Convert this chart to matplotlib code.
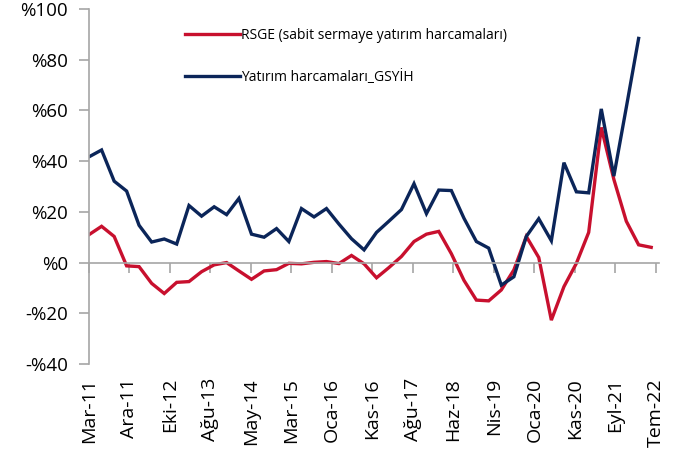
import numpy as np
import pandas as pd
import matplotlib
matplotlib.use("Agg")
import matplotlib.pyplot as plt

plt.rcParams['font.family'] = ['Open Sans', 'DejaVu Sans']

# quarterly data, Mar-11 .. Jun-22
dates = pd.date_range('2011-03-01', periods=46, freq='3MS')

rsge = [11.0, 14.3, 10.3, -1.3, -1.6, -8.2, -12.2, -7.8, -7.5, -3.6,
        -0.9, 0.0, -3.3, -6.6, -3.3, -2.8, -0.3, -0.5, 0.1, 0.4,
        -0.4, 2.8, -0.5, -6.0, -2.0, 2.4, 8.3, 11.2, 12.3, 3.5,
        -7.0, -14.8, -15.1, -10.8, -2.9, 10.3, 2.0, -22.7, -9.5, -0.3,
        11.9, 53.3, 32.8, 16.3, 7.0, 6.0]

yatirim = [41.7, 44.4, 32.1, 28.2, 14.7, 8.1, 9.3, 7.3, 22.5, 18.3,
           22.0, 18.9, 25.3, 11.2, 10.0, 13.4, 8.3, 21.3, 18.0, 21.3,
           15.2, 9.4, 5.0, 11.9, 16.3, 20.9, 31.1, 19.3, 28.6, 28.4,
           17.5, 8.3, 5.7, -8.9, -5.6, 10.3, 17.3, 8.6, 39.4, 27.9,
           27.5, 60.6, 34.1, 61.2, 88.4]

labels = ['RSGE (sabit sermaye yatırım harcamaları)', 'Yatırım harcamaları_GSYİH']

xtick_labels = ['Mar-11', 'Ara-11', 'Eki-12', 'Ağu-13', 'May-14', 'Mar-15', 'Oca-16',
                'Kas-16', 'Ağu-17', 'Haz-18', 'Nis-19', 'Oca-20', 'Kas-20', 'Eyl-21', 'Tem-22']
yticks = [-40, -20, 0, 20, 40, 60, 80, 100]
ytick_labels = ['-%40', '-%20', '%0', '%20', '%40', '%60', '%80', '%100']

# excel date axis: one major tick every 296 days
xticks = pd.Timestamp('2011-03-01') + pd.to_timedelta(np.arange(len(xtick_labels)) * 296, unit='D')

red = '#C8102E'
navy = '#0B2559'
grey = '#A6A6A6'

fig = plt.figure(figsize=(6.73, 4.55), dpi=100)
ax = fig.add_axes([89/673, 1 - 364/455, (659 - 89)/673, (364 - 9)/455])

ax.plot(dates, rsge, color=red, lw=2.4, label=labels[0], solid_joinstyle='miter')
ax.plot(dates[:len(yatirim)], yatirim, color=navy, lw=2.4, label=labels[1], solid_joinstyle='miter')

ax.set_ylim(-40, 100)
ax.set_xlim(pd.Timestamp('2011-03-01'), pd.Timestamp('2022-07-28'))

ax.set_yticks(yticks)
ax.set_yticklabels(ytick_labels, fontsize=13.5)
ax.tick_params(axis='y', direction='out', length=7, color=grey, width=1.2, pad=8)

for s in ['top', 'right']:
    ax.spines[s].set_visible(False)
ax.spines['left'].set_color(grey)
ax.spines['left'].set_linewidth(1.2)
ax.spines['bottom'].set_position(('data', 0))
ax.spines['bottom'].set_color(grey)
ax.spines['bottom'].set_linewidth(1.2)
ax.set_xticks(xticks)
ax.tick_params(axis='x', direction='out', length=7, color=grey, width=1.2, labelbottom=False)

# labels sit at the bottom of the plot, not on the zero line
sec = ax.secondary_xaxis(0)
sec.set_xticks(xticks)
sec.set_xticklabels(xtick_labels, rotation=90, fontsize=14)
sec.tick_params(length=0, pad=10)
sec.spines['bottom'].set_visible(False)

ax.legend(loc='upper left', bbox_to_anchor=(173/673, 1 - 15/455), bbox_transform=fig.transFigure,
          frameon=False, fontsize=10, handlelength=3.9, handletextpad=0.1, labelspacing=2.0)

fig.savefig('out.png', dpi=100)
